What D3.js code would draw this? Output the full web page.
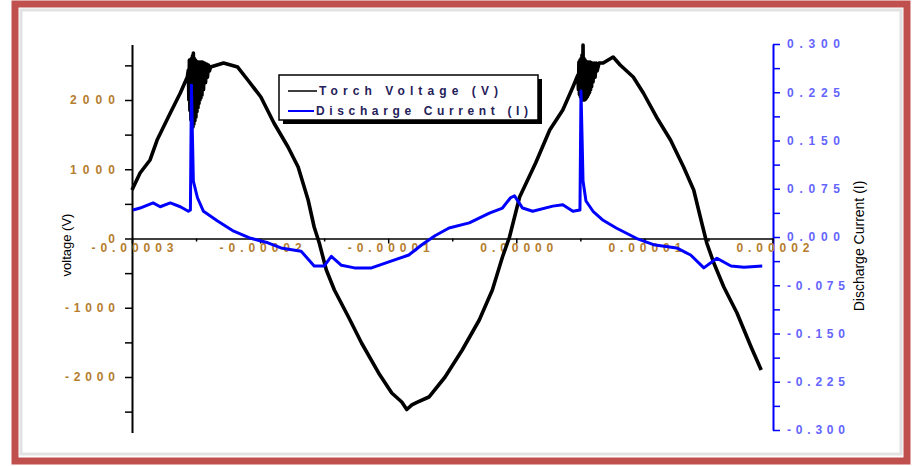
<!DOCTYPE html>
<html>
<head>
<meta charset="utf-8">
<script src="https://cdn.jsdelivr.net/npm/d3@7"></script>
<style>
  body { margin: 0; background: #fff; }
  svg { display: block; }
</style>
</head>
<body>
<div id="chart"></div>
<script>
// time in microseconds (axis labels show seconds)
const voltageTime = [-30, -29.37, -28.59, -28.04, -27.01, -26.23, -25.68,
  -25.60, -25.56, -25.52, -25.48, -25.44, -25.40, -25.36, -25.32, -25.28, -25.24, -25.21, -25.17,
  -25.13, -25.09, -25.05, -25.01, -24.97, -24.93, -24.89, -24.85, -24.81, -24.77, -24.73, -24.69,
  -24.66, -24.62, -24.58, -24.54, -24.50, -24.42, -24.34, -24.26, -24.18, -24.11, -24.03, -23.95,
  -23.87, -22.85, -21.75, -20.96, -19.94, -18.92, -17.82, -17.03, -16.25, -15.78, -15.38, -14.83,
  -14.2, -13.1, -12.08, -10.75, -9.72, -8.94, -8.55, -8.15, -7.76, -6.82, -5.56, -4.22, -2.89,
  -1.87, -1.08, -0.53, 0.26, 1.51, 2.61, 3.63, 4.42,
  4.81, 4.85, 4.89, 4.93, 4.97, 5.01, 5.05, 5.09, 5.13, 5.17, 5.21, 5.25, 5.29, 5.33, 5.37, 5.41,
  5.44, 5.48, 5.52, 5.56, 5.60, 5.64, 5.68, 5.72, 5.76, 5.80, 5.84, 5.88, 5.91, 5.99, 6.07, 6.15,
  6.23, 6.31, 6.46,
  6.78, 7.56, 8.11, 9.13, 9.92, 10.94, 12.04, 13.06, 13.85, 14.48, 14.87, 15.42, 16.2,
  17.23, 18.33, 19.12];
const voltageValues = [700, 946, 1134, 1422, 1812, 2101, 2332,
  2433, 2000, 2578, 1850, 2549, 1710, 2600, 1620, 2640, 1610, 2679, 1650,
  2600, 1700, 2578, 1750, 2560, 1830, 2549, 1890, 2549, 1950, 2549, 2000,
  2549, 2030, 2549, 2070, 2549, 2150, 2534, 2250, 2520, 2330, 2505, 2420,
  2476, 2534, 2476, 2289, 2043, 1668, 1321, 1032, 556, 166, -65, -455,
  -744, -1134, -1509, -1942, -2231, -2361, -2469, -2404, -2368, -2289, -2000, -1610, -1177,
  -744, -267, 22, 599, 1090, 1567, 1856, 2188,
  2361, 2150, 2549, 2080, 2578, 2043, 2600, 2010, 2650, 2000, 2794, 2000, 2600, 2000, 2578, 2010,
  2560, 2030, 2549, 2050, 2549, 2080, 2549, 2110, 2549, 2150, 2540, 2190, 2534, 2260, 2534, 2330,
  2534, 2420, 2534,
  2534, 2621, 2505, 2332, 2101, 1755, 1422, 1032, 700, 224, -65, -354, -700,
  -1076, -1567, -1899];

const currentTime = [-29.92, -29.37, -28.35, -27.8, -27.01, -26.23, -25.6, -25.44, -25.36, -25.28,
  -25.21, -24.89, -24.42, -23.32, -22.06, -20.73, -19.39, -18.37, -16.8, -15.78, -14.99, -14.44,
  -13.65, -12.63, -11.3, -9.72, -8.39, -7.37, -6.35, -5.25, -3.67, -2.1, -1.08, -0.45, -0.14,
  0.49, 1.28, 2.85, 3.63, 4.42, 4.97, 5.05, 5.13, 5.21, 5.44, 5.99, 6.78, 7.8, 9.37, 10.71,
  12.52, 13.61, 14.64, 15.66, 16.76, 17.78, 19.2];
const currentValues = [0.042, 0.045, 0.053, 0.047, 0.053, 0.047, 0.040, 0.042, 0.236, 0.154,
  0.087, 0.061, 0.040, 0.025, 0.009, -0.002, -0.009, -0.017, -0.022, -0.045, -0.045, -0.030,
  -0.044, -0.048, -0.048, -0.037, -0.028, -0.012, 0.002, 0.014, 0.022, 0.037, 0.045, 0.061, 0.064,
  0.045, 0.040, 0.048, 0.050, 0.040, 0.042, 0.227, 0.159, 0.087, 0.056, 0.040, 0.026, 0.014, -0.002, -0.012,
  -0.017, -0.028, -0.048, -0.033, -0.045, -0.047, -0.045];

const xTickValues = [-30, -20, -10, 0, 10, 20];
const xTickLabels = ["-0.00003", "-0.00002", "-0.00001", "0.00000", "0.00001", "0.00002"];
const leftTickValues = [-2000, -1000, 0, 1000, 2000];
const rightTickValues = [-0.3, -0.225, -0.15, -0.075, 0, 0.075, 0.15, 0.225, 0.3];
const seriesNames = ["Torch Voltage (V)", "Discharge Current (I)"];

const width = 912, height = 466;
const labelColor = "#b57d2e";
const font = "Liberation Sans, Arial, sans-serif";

const svg = d3.select("#chart").append("svg")
  .attr("width", width)
  .attr("height", height);

const x = d3.scaleLinear().domain([-30, 20.04]).range([132, 773]);
const yLeft = d3.scaleLinear().domain([-2800, 2800]).range([432.4, 44.6]);
const yRight = d3.scaleLinear().domain([-0.3, 0.3]).range([430, 44]);

// frame
svg.append("rect")
  .attr("x", 21).attr("y", 10).attr("width", 880).attr("height", 444)
  .attr("fill", "none").attr("stroke", "#e2e2e2").attr("stroke-width", 3);
svg.append("rect")
  .attr("x", 15).attr("y", 4).attr("width", 892).attr("height", 457)
  .attr("fill", "none").attr("stroke", "#c0504d").attr("stroke-width", 7);

// left axis with minor ticks
const leftAll = d3.range(-2500, 2501, 500);
const leftAxis = svg.append("g")
  .attr("transform", `translate(${x.range()[0]},0)`)
  .call(d3.axisLeft(yLeft).tickValues(leftAll).tickSize(7).tickSizeOuter(0)
    .tickFormat(d => leftTickValues.includes(d) ? String(d) : ""));
leftAxis.select(".domain").attr("stroke", "#000").attr("stroke-width", 2);
leftAxis.selectAll(".tick line").attr("stroke", "#000").attr("stroke-width", 1.5);
leftAxis.selectAll(".tick text")
  .attr("x", -17)
  .attr("fill", labelColor)
  .attr("font-family", font).attr("font-weight", "bold").attr("font-size", 12)
  .each(function(d) {
    const w = { "2000": 45, "1000": 45, "0": 8, "-1000": 50, "-2000": 50 }[String(d)];
    if (w) d3.select(this).attr("textLength", w).attr("lengthAdjust", "spacing");
  });

// right axis with minor ticks
const rightAll = d3.range(-8, 9).map(i => i * 0.0375);
const rightAxis = svg.append("g")
  .attr("transform", `translate(${x.range()[1]},0)`)
  .call(d3.axisRight(yRight).tickValues(rightAll).tickSize(7).tickSizeOuter(0)
    .tickFormat((d, i) => i % 2 === 0 ? d3.format(".3f")(d).replace("−", "-") : ""));
rightAxis.select(".domain").attr("stroke", "#0000ff").attr("stroke-width", 2);
rightAxis.selectAll(".tick line").attr("stroke", "#0000ff").attr("stroke-width", 1.5);
rightAxis.selectAll(".tick text")
  .attr("x", 14)
  .attr("fill", "#6464ff")
  .attr("font-family", font).attr("font-weight", "bold").attr("font-size", 12)
  .each(function() {
    const t = d3.select(this).text();
    if (t) d3.select(this).attr("textLength", t.startsWith("-") ? 58 : 53).attr("lengthAdjust", "spacing");
  });

// x axis at zero voltage
const xAll = d3.range(-30, 21, 5);
const xAxis = svg.append("g")
  .attr("transform", `translate(0,${yLeft(0)})`)
  .call(d3.axisBottom(x).tickValues(xAll).tickSizeOuter(0)
    .tickFormat(d => {
      const i = xTickValues.indexOf(d);
      return i >= 0 ? xTickLabels[i] : "";
    }));
xAxis.select(".domain").attr("stroke", "#000").attr("stroke-width", 1.5);
xAxis.selectAll(".tick line")
  .attr("stroke", "#000").attr("stroke-width", 1.5)
  .attr("y2", d => xTickValues.includes(d) ? 5 : 3);
xAxis.selectAll(".tick text")
  .attr("y", 5)
  .attr("fill", labelColor)
  .attr("font-family", font).attr("font-weight", "bold").attr("font-size", 12)
  .each(function() {
    const t = d3.select(this).text();
    if (t) d3.select(this).attr("textLength", t.startsWith("-") ? 82 : 73).attr("lengthAdjust", "spacing");
  });

// series
const voltagePts = voltageTime.map((t, i) => [t, voltageValues[i]]);
const currentPts = currentTime.map((t, i) => [t, currentValues[i]]);

svg.append("path")
  .datum(voltagePts)
  .attr("fill", "none")
  .attr("stroke", "#000")
  .attr("stroke-width", 3.6)
  .attr("stroke-linejoin", "round")
  .attr("d", d3.line().x(d => x(d[0])).y(d => yLeft(d[1])));

svg.append("path")
  .datum(currentPts)
  .attr("fill", "none")
  .attr("stroke", "#0000ff")
  .attr("stroke-width", 3)
  .attr("stroke-linejoin", "round")
  .attr("d", d3.line().x(d => x(d[0])).y(d => yRight(d[1])));

// axis titles
svg.append("text")
  .attr("transform", "translate(71,245) rotate(-90)")
  .attr("text-anchor", "middle")
  .attr("font-family", font).attr("font-size", 13)
  .attr("fill", "#000")
  .text("voltage (V)");

svg.append("text")
  .attr("transform", "translate(864,246) rotate(-90)")
  .attr("text-anchor", "middle")
  .attr("font-family", font).attr("font-size", 14)
  .attr("fill", "#000")
  .text("Discharge Current (I)");

// legend
const legend = svg.append("g");
legend.append("rect")
  .attr("x", 283).attr("y", 79).attr("width", 259).attr("height", 45)
  .attr("fill", "#000");
legend.append("rect")
  .attr("x", 279).attr("y", 75).attr("width", 259).attr("height", 45)
  .attr("fill", "#fff").attr("stroke", "#000").attr("stroke-width", 1.5);

const legendColors = ["#000", "#0000ff"];
const legendX = [319, 316];
const legendW = [179, 212];
seriesNames.forEach((name, i) => {
  const yy = 91 + i * 20;
  legend.append("line")
    .attr("x1", 288).attr("x2", legendX[i] - 2)
    .attr("y1", yy).attr("y2", yy)
    .attr("stroke", legendColors[i]).attr("stroke-width", i ? 2 : 1.5);
  legend.append("text")
    .attr("x", legendX[i]).attr("y", yy + 4)
    .attr("font-family", font).attr("font-weight", "bold").attr("font-size", 12)
    .attr("fill", "#24205a")
    .attr("textLength", legendW[i]).attr("lengthAdjust", "spacing")
    .text(name);
});
</script>
</body>
</html>
